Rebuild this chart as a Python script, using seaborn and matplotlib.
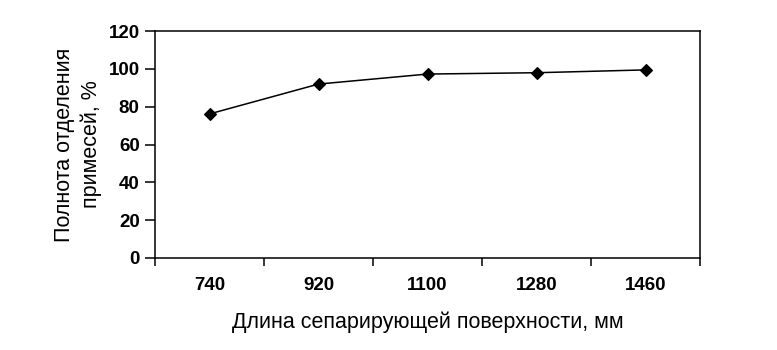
import numpy as np
import pandas as pd
import matplotlib
matplotlib.use('Agg')
import matplotlib.pyplot as plt
import seaborn as sns

# ------------ data -----------------------------------
lengths = ['740', '920', '1100', '1280', '1460']
completeness = [76.2, 92.0, 97.3, 98.0, 99.5]

df = pd.DataFrame({'length': lengths, 'completeness': completeness})

sns.set_theme(style='white')
plt.rcParams['font.family'] = ['Liberation Sans', 'DejaVu Sans']

fig = plt.figure(figsize=(7.77, 3.5), dpi=100)
ax = fig.add_axes([0.1995, 0.263, 0.7015, 0.648])

sns.pointplot(data=df, x='length', y='completeness', order=lengths,
              color='black', markers='D', linestyles='-',
              markersize=6.5, linewidth=1.1, ax=ax)

ax.set_ylim(0, 120)
ax.set_yticks(np.arange(0, 121, 20))
ax.set_xlim(-0.5, len(lengths) - 0.5)

# category axis: ticks between categories, labels centred
ax.set_xticks(np.arange(-0.5, len(lengths), 1), minor=True)
ax.tick_params(axis='x', which='major', length=0, pad=14)
ax.tick_params(axis='x', which='minor', length=6, width=1.1, color='black',
               direction='out', bottom=True)
ax.tick_params(axis='y', which='major', length=7, width=1.1, color='black',
               direction='out', left=True, pad=4)

for lab in ax.get_xticklabels() + ax.get_yticklabels():
    lab.set_fontsize(13.5)
    lab.set_fontweight('bold')
    lab.set_color('black')

for s in ax.spines.values():
    s.set_visible(True)
    s.set_color('black')
    s.set_linewidth(1.1)

ax.set_xlabel('Длина сепарирующей поверхности, мм', fontsize=15.5,
              color='black', labelpad=12)
ax.set_ylabel('Полнота отделения\nпримесей, %', fontsize=15.5,
              color='black', labelpad=5, linespacing=1.3)

fig.savefig('out.png', dpi=100, facecolor='white')
